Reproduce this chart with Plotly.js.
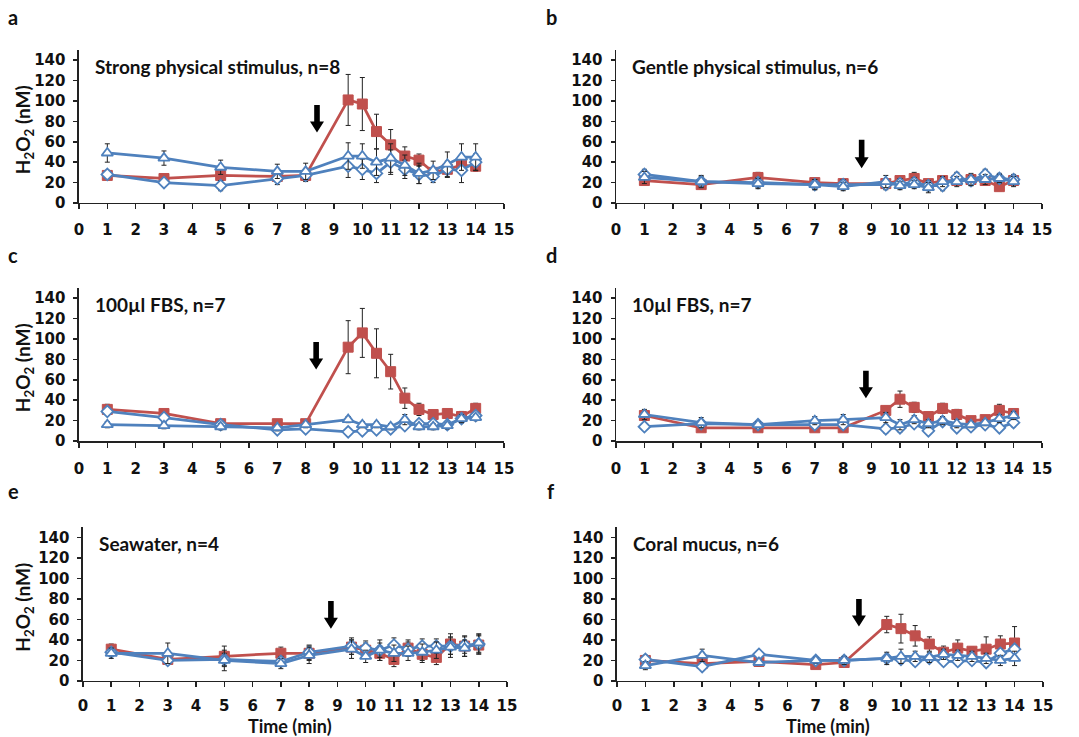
<!DOCTYPE html>
<html><head><meta charset="utf-8">
<script src="https://cdn.plot.ly/plotly-3.0.1.min.js"></script>
<style>html,body{margin:0;padding:0;background:#fff}#chart{width:1079px;height:737px}</style>
</head><body><div id="chart"></div>
<script>
// ---- data ----
const times = [1, 3, 5, 7, 8, 9.5, 10, 10.5, 11, 11.5, 12, 12.5, 13, 13.5, 14];
const xTickVals = [0,1,2,3,4,5,6,7,8,9,10,11,12,13,14,15];
const yTickVals = [0,20,40,60,80,100,120,140];
const panelLetters = ['a','b','c','d','e','f'];
const panelTitles = ['Strong physical stimulus, n=8','Gentle physical stimulus, n=6','100µl FBS, n=7','10µl FBS, n=7','Seawater, n=4','Coral mucus, n=6'];
const arrowX = [8.4, 8.65, 8.37, 8.8, 8.77, 8.52];
const arrowTop = [96, 62, 97, 69, 78, 80];
const arrowTip = [69, 34, 70, 42, 51, 53];

// panel a
const redA = [27,24,27,26,27,101,97,70,57,46,42,30,33,37,36];
const redAErr = [4,3,5,4,5,25,26,17,15,9,6,4,4,4,5];
const triA = [49,44,35,31,31,46,46,40,44,37,29,32,38,45,45];
const triAErr = [9,7,7,7,8,13,12,13,14,10,10,9,12,13,13];
const diaA = [28,20,17,24,27,36,33,29,40,33,28,26,33,32,40];
const diaAErr = [4,3,5,6,6,11,10,9,12,9,9,6,8,12,8];
// panel b
const redB = [22,18,25,20,19,19,22,24,19,22,22,23,22,16,22];
const redBErr = [4,4,5,4,4,4,4,6,4,4,4,4,4,4,4];
const triB = [25,21,19,18,16,21,17,18,15,21,21,23,23,24,21];
const triBErr = [6,6,5,5,4,6,4,4,5,5,5,6,5,4,5];
const diaB = [28,21,20,18,18,18,19,20,17,17,25,22,28,24,23];
const diaBErr = [5,5,5,5,5,5,5,5,5,5,5,5,5,5,5];
// panel c
const redC = [31,27,17,17,17,92,106,86,68,42,31,26,27,24,32];
const redCErr = [5,3,3,3,3,26,24,24,17,10,6,4,3,5,5];
const triC = [16,15,14,13,16,21,16,16,14,21,14,14,15,22,23];
const triCErr = [3,3,3,3,3,3,3,3,3,5,3,3,3,4,3];
const diaC = [29,23,16,11,12,9,10,11,12,15,17,17,16,22,25];
const diaCErr = [3,3,3,3,3,2,2,2,2,3,3,3,3,4,3];
// panel d
const redD = [25,13,13,13,13,30,41,33,24,32,26,20,21,30,27];
const redDErr = [4,3,3,3,3,4,8,5,4,5,5,3,3,6,4];
const triD = [26,18,16,20,21,23,16,21,17,20,17,16,18,22,25];
const triDErr = [5,5,3,4,5,5,5,4,4,4,4,3,3,4,4];
const diaD = [14,17,16,16,16,12,13,17,10,19,13,14,16,13,18];
const diaDErr = [3,3,3,3,3,4,4,3,3,3,3,3,3,3,4];
// panel e
const redE = [31,21,24,27,27,33,30,27,21,32,26,23,36,34,35];
const redEErr = [5,4,10,6,7,7,7,7,7,8,8,7,10,10,9];
const triE = [27,27,20,17,25,31,24,30,27,27,28,30,33,32,37];
const triEErr = [5,10,10,5,8,9,6,10,8,7,8,8,10,8,9];
const diaE = [28,20,21,19,28,34,32,30,35,31,34,34,34,35,36];
const diaEErr = [4,4,6,5,7,8,7,7,7,7,7,7,8,8,9];
// panel f
const redF = [20,17,19,16,18,55,51,44,36,28,32,29,31,36,37];
const redFErr = [5,4,3,3,3,8,14,10,7,6,8,4,12,8,16];
const triF = [15,25,18,20,20,22,24,24,23,26,25,24,22,20,22];
const triFErr = [4,6,3,3,4,6,7,5,5,5,5,5,5,5,7];
const diaF = [21,14,26,20,20,22,21,19,22,19,19,20,18,27,31];
const diaFErr = [4,3,3,3,3,4,4,4,4,4,4,4,4,4,4];

const reds = [redA, redB, redC, redD, redE, redF];
const redErrs = [redAErr, redBErr, redCErr, redDErr, redEErr, redFErr];
const tris = [triA, triB, triC, triD, triE, triF];
const triErrs = [triAErr, triBErr, triCErr, triDErr, triEErr, triFErr];
const dias = [diaA, diaB, diaC, diaD, diaE, diaF];
const diaErrs = [diaAErr, diaBErr, diaCErr, diaDErr, diaEErr, diaFErr];

// ---- layout geometry ----
const W = 1079, H = 737;
const xDomains = [[0.0732,0.4671],[0.5709,0.9657],[0.0732,0.4671],[0.5709,0.9657],[0.0769,0.4699],[0.5718,0.9666]];
const yDomains = [[0.7246,0.9322],[0.7246,0.9322],[0.4016,0.6092],[0.4016,0.6092],[0.076,0.2849],[0.076,0.2849]];
const RED = '#C0504D', BLUE = '#4F81BD';
const FONT = 'Lato, "Open Sans", sans-serif';
const TICKFONT = '"DejaVu Sans", Lato, sans-serif';
const TXT = '#111';

const traces = [];
const layout = {
  width: W, height: H, margin: {l:0, r:0, t:0, b:0},
  paper_bgcolor: '#fff', plot_bgcolor: '#fff', showlegend: false,
  font: {family: FONT, color: TXT},
  annotations: [], shapes: []
};

function errBar(arr){ return {type:'data', array: arr, visible:true, color:'#222', thickness:1, width:2.5}; }

for (let i = 0; i < 6; i++) {
  const sfx = i === 0 ? '' : String(i + 1);
  const xa = 'x' + sfx, ya = 'y' + sfx;
  traces.push({x: times, y: reds[i], xaxis: xa, yaxis: ya, type:'scatter', mode:'lines+markers',
    line:{color:RED, width:2.75}, marker:{symbol:'square', size:10, color:RED, line:{color:RED, width:1}},
    error_y: errBar(redErrs[i])});
  traces.push({x: times, y: dias[i], xaxis: xa, yaxis: ya, type:'scatter', mode:'lines+markers',
    line:{color:BLUE, width:2.75}, marker:{symbol:'diamond', size:9, color:'#fff', line:{color:BLUE, width:1.8}},
    error_y: errBar(diaErrs[i])});
  traces.push({x: times, y: tris[i], xaxis: xa, yaxis: ya, type:'scatter', mode:'lines+markers',
    line:{color:BLUE, width:2.75}, marker:{symbol:'triangle-up', size:10, color:'#fff', line:{color:BLUE, width:1.8}},
    error_y: errBar(triErrs[i])});

  layout['xaxis' + sfx] = {domain: xDomains[i], anchor: ya, range:[0,15], tickvals: xTickVals,
    ticks:'outside', ticklen:5, tickwidth:1.5, tickcolor:'#222', showline:true, linecolor:'#222', linewidth:1.5,
    showgrid:false, zeroline:false, fixedrange:true, ticklabelstandoff: (i >= 4 ? 6 : 8),
    tickfont:{family:TICKFONT, size:15, color:TXT, weight:'bold'}};
  layout['yaxis' + sfx] = {domain: yDomains[i], anchor: xa, range:[0,150], tickvals: yTickVals,
    ticks:'outside', ticklen:4, tickwidth:1.5, tickcolor:'#222', showline:true, linecolor:'#222', linewidth:1.5,
    showgrid:false, zeroline:false, fixedrange:true, ticklabelstandoff: 5,
    tickfont:{family:TICKFONT, size:15, color:TXT, weight:'bold'}};

  // panel title inside plot
  layout.annotations.push({xref: xa, yref: ya, x: 0.5, y: 134, text: panelTitles[i], showarrow:false,
    xanchor:'left', yanchor:'middle', font:{family:FONT, size:19, color:TXT, weight:'bold'}});
  // panel letter
  const lx = (i % 2 === 0) ? 13 : 551;
  const ly = [17, 17, 255, 255, 491, 491][i];
  layout.annotations.push({xref:'paper', yref:'paper', x: lx / W, y: 1 - ly / H, text: panelLetters[i],
    showarrow:false, xanchor:'center', yanchor:'middle', font:{family:FONT, size:20, color:TXT, weight:'bold'}});
  // y title on left panels
  if (i % 2 === 0) {
    const yc = (yDomains[i][0] + yDomains[i][1]) / 2 - 0.005;
    layout.annotations.push({xref:'paper', yref:'paper', x: 24 / W, y: yc, text:'H<sub>2</sub>O<sub>2</sub> (nM)',
      textangle:-90, showarrow:false, xanchor:'center', yanchor:'middle', font:{family:FONT, size:19, color:TXT, weight:'bold'}});
  }
  // arrow (block arrow sized in pixels)
  const pxX = (xDomains[i][1] - xDomains[i][0]) * W / 15;
  const pxY = (yDomains[i][1] - yDomains[i][0]) * H / 150;
  const sw = 2.8 / pxX, hw = 7 / pxX, hh = 11 / pxY;
  const ax = arrowX[i], top = arrowTop[i], tip = arrowTip[i], hb = tip + hh;
  layout.shapes.push({type:'path', xref: xa, yref: ya, fillcolor:'#000', line:{width:0},
    path: `M ${ax - sw} ${top} L ${ax + sw} ${top} L ${ax + sw} ${hb} L ${ax + hw} ${hb} L ${ax} ${tip} L ${ax - hw} ${hb} L ${ax - sw} ${hb} Z`});
}
// x titles
layout.annotations.push({xref:'paper', yref:'paper', x: 290 / W, y: 1 - 726 / H, text:'Time (min)', showarrow:false,
  xanchor:'center', yanchor:'middle', borderpad:0, font:{family:FONT, size:18, color:TXT, weight:'bold'}});
layout.annotations.push({xref:'paper', yref:'paper', x: 828 / W, y: 1 - 726 / H, text:'Time (min)', showarrow:false,
  xanchor:'center', yanchor:'middle', borderpad:0, font:{family:FONT, size:18, color:TXT, weight:'bold'}});

Plotly.newPlot('chart', traces, layout, {staticPlot:true, displayModeBar:false});
</script></body></html>
